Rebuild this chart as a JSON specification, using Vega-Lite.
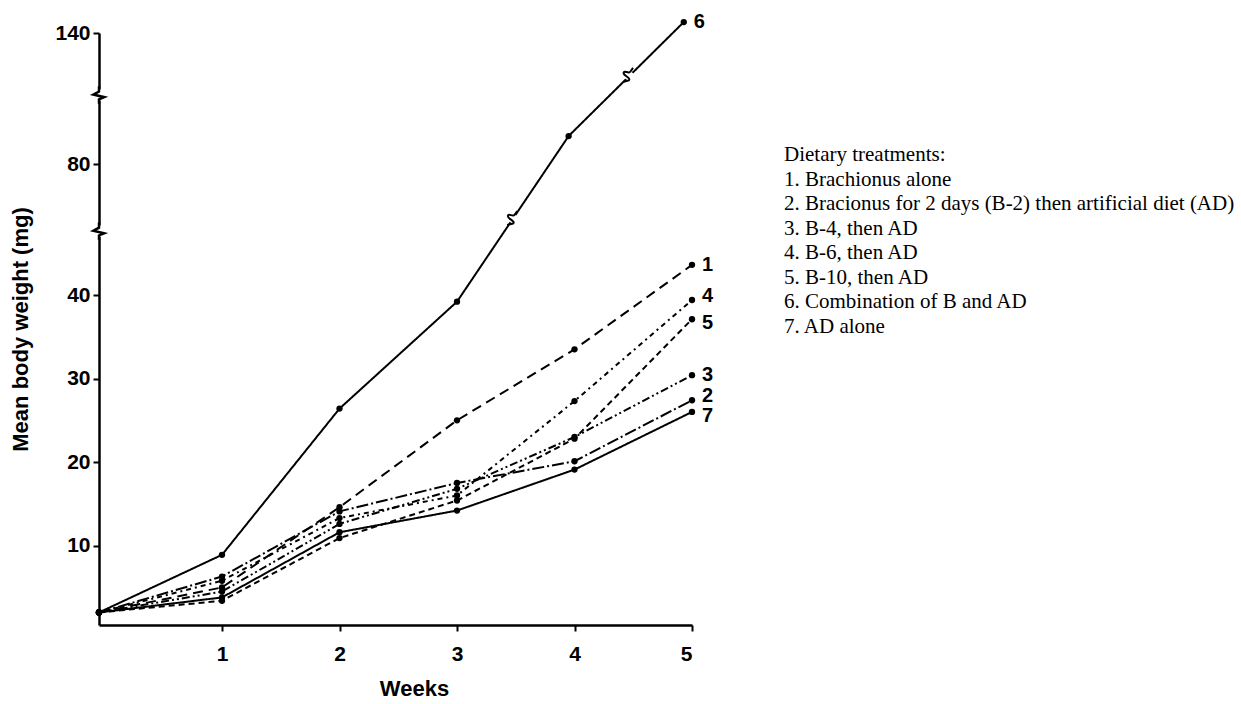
{
  "$schema": "https://vega.github.io/schema/vega-lite/v6.json",
  "background": "white",
  "padding": {"left": 9, "top": 12, "right": 2, "bottom": 5},
  "config": {
    "view": {"stroke": null},
    "font": "Liberation Sans",
    "axis": {"grid": false, "domainColor": "black", "tickColor": "black", "labelColor": "black", "titleColor": "black"}
  },
  "datasets": {
    "weights": [
      {"series": "1", "week": 0, "mg": 2.0},
      {"series": "1", "week": 1, "mg": 5.0},
      {"series": "1", "week": 2, "mg": 14.6},
      {"series": "1", "week": 3, "mg": 25.0},
      {"series": "1", "week": 4, "mg": 33.5},
      {"series": "1", "week": 5, "mg": 49.2},
      {"series": "2", "week": 0, "mg": 2.0},
      {"series": "2", "week": 1, "mg": 6.3},
      {"series": "2", "week": 2, "mg": 14.1},
      {"series": "2", "week": 3, "mg": 17.5},
      {"series": "2", "week": 4, "mg": 20.1},
      {"series": "2", "week": 5, "mg": 27.4},
      {"series": "3", "week": 0, "mg": 2.0},
      {"series": "3", "week": 1, "mg": 4.5},
      {"series": "3", "week": 2, "mg": 12.6},
      {"series": "3", "week": 3, "mg": 16.8},
      {"series": "3", "week": 4, "mg": 23.0},
      {"series": "3", "week": 5, "mg": 30.4},
      {"series": "4", "week": 0, "mg": 2.0},
      {"series": "4", "week": 1, "mg": 5.8},
      {"series": "4", "week": 2, "mg": 13.3},
      {"series": "4", "week": 3, "mg": 16.0},
      {"series": "4", "week": 4, "mg": 27.3},
      {"series": "4", "week": 5, "mg": 39.4},
      {"series": "5", "week": 0, "mg": 2.0},
      {"series": "5", "week": 1, "mg": 3.4},
      {"series": "5", "week": 2, "mg": 10.9},
      {"series": "5", "week": 3, "mg": 15.4},
      {"series": "5", "week": 4, "mg": 22.8},
      {"series": "5", "week": 5, "mg": 37.1},
      {"series": "6", "week": 0, "mg": 2.0},
      {"series": "6", "week": 1, "mg": 8.9},
      {"series": "6", "week": 2, "mg": 26.4},
      {"series": "6", "week": 3, "mg": 39.2},
      {"series": "6", "week": 3.95, "mg": 92.8},
      {"series": "6", "week": 4.93, "mg": 145},
      {"series": "7", "week": 0, "mg": 2.0},
      {"series": "7", "week": 1, "mg": 3.8},
      {"series": "7", "week": 2, "mg": 11.6},
      {"series": "7", "week": 3, "mg": 14.2},
      {"series": "7", "week": 4, "mg": 19.1},
      {"series": "7", "week": 5, "mg": 26.0}
    ],
    "breaks": [
      {"on": "axis", "week": 0, "mg": 111.6},
      {"on": "axis", "week": 0, "mg": 59.5},
      {"on": "line", "week": 3.47, "mg": 63.5},
      {"on": "line", "week": 4.455, "mg": 120.8}
    ],
    "treatments": [
      {"item": 0, "text": "Dietary treatments:"},
      {"item": 1, "text": "1. Brachionus alone"},
      {"item": 2, "text": "2. Bracionus for 2 days (B-2) then artificial diet (AD)"},
      {"item": 3, "text": "3. B-4, then AD"},
      {"item": 4, "text": "4. B-6, then AD"},
      {"item": 5, "text": "5. B-10, then AD"},
      {"item": 6, "text": "6. Combination of B and AD"},
      {"item": 7, "text": "7. AD alone"}
    ]
  },
  "spacing": 70,
  "hconcat": [
    {
      "width": 593,
      "height": 592,
      "encoding": {
        "x": {
          "field": "week",
          "type": "quantitative",
          "scale": {"domain": [0, 1, 5], "range": [0, 123, 593], "zero": false, "nice": false},
          "axis": {
            "values": [1, 2, 3, 4, 5],
            "format": "d",
            "domainWidth": 2.5,
            "tickWidth": 2,
            "tickSize": 6,
            "labelFontSize": 21,
            "labelFontWeight": "bold",
            "labelPadding": 12,
            "title": "Weeks",
            "titleFontSize": 22,
            "titleFontWeight": "bold",
            "titlePadding": 14,
            "titleX": 315
          }
        },
        "y": {
          "field": "mg",
          "type": "quantitative",
          "scale": {"domain": [0.5, 40, 80, 140], "range": [592, 262, 131, 0], "zero": false, "nice": false},
          "axis": {
            "values": [10, 20, 30, 40, 80, 140],
            "domainWidth": 2.5,
            "tickWidth": 2,
            "tickSize": 6,
            "labelFontSize": 21,
            "labelFontWeight": "bold",
            "labelPadding": 3,
            "title": "Mean body weight (mg)",
            "titleFontSize": 22,
            "titleFontWeight": "bold",
            "titlePadding": 22
          }
        }
      },
      "layer": [
        {
          "data": {"name": "weights"},
          "mark": {"type": "line", "color": "black", "strokeWidth": 2, "clip": false},
          "encoding": {
            "detail": {"field": "series", "type": "nominal"},
            "strokeDash": {
              "field": "series",
              "type": "nominal",
              "legend": null,
              "scale": {
                "domain": ["1", "2", "3", "4", "5", "6", "7"],
                "range": [[10, 6], [12, 3, 2, 3], [8, 3, 2, 3, 2, 3], [5, 4, 2, 4], [6, 4], [1, 0], [1, 0]]
              }
            }
          }
        },
        {
          "data": {"name": "weights"},
          "mark": {"type": "point", "filled": true, "color": "black", "opacity": 1, "size": 40, "clip": false}
        },
        {
          "data": {"name": "weights"},
          "transform": [{"filter": "datum.week >= 4.9 && (datum.series === '1' || datum.series === '3' || datum.series === '6')"}],
          "mark": {"type": "text", "align": "left", "baseline": "middle", "dx": 10, "fontSize": 20, "fontWeight": "bold", "color": "black"},
          "encoding": {"text": {"field": "series", "type": "nominal"}}
        },
        {
          "data": {"name": "weights"},
          "transform": [{"filter": "datum.week >= 4.9 && (datum.series === '2' || datum.series === '4')"}],
          "mark": {"type": "text", "align": "left", "baseline": "middle", "dx": 10, "dy": -4, "fontSize": 20, "fontWeight": "bold", "color": "black"},
          "encoding": {"text": {"field": "series", "type": "nominal"}}
        },
        {
          "data": {"name": "weights"},
          "transform": [{"filter": "datum.week >= 4.9 && (datum.series === '5' || datum.series === '7')"}],
          "mark": {"type": "text", "align": "left", "baseline": "middle", "dx": 10, "dy": 4, "fontSize": 20, "fontWeight": "bold", "color": "black"},
          "encoding": {"text": {"field": "series", "type": "nominal"}}
        },
        {
          "data": {"name": "breaks"},
          "transform": [{"filter": "datum.on === 'axis'"}],
          "mark": {"type": "point", "shape": "square", "filled": true, "color": "white", "opacity": 1, "size": 130, "clip": false}
        },
        {
          "data": {"name": "breaks"},
          "transform": [{"filter": "datum.on === 'axis'"}],
          "mark": {"type": "point", "shape": "M0,-1L0,-0.4L-0.65,-0.05L0.6,0.25L0,0.5L0,1", "filled": false, "color": "black", "strokeWidth": 2.5, "opacity": 1, "size": 300, "clip": false}
        },
        {
          "data": {"name": "breaks"},
          "transform": [{"filter": "datum.on === 'line'"}],
          "mark": {"type": "point", "shape": "square", "filled": true, "color": "white", "opacity": 1, "size": 80, "angle": 36, "clip": false}
        },
        {
          "data": {"name": "breaks"},
          "transform": [{"filter": "datum.on === 'line'"}],
          "mark": {"type": "point", "shape": "M0,-1L0,-0.45C0,-0.1,-0.7,-0.25,-0.55,0.1C-0.4,0.4,0.55,0.05,0.45,0.45L0,1", "filled": false, "color": "black", "strokeWidth": 2, "opacity": 1, "size": 300, "angle": 36, "clip": false}
        }
      ]
    },
    {
      "width": 450,
      "height": 592,
      "data": {"name": "treatments"},
      "mark": {"type": "text", "align": "left", "baseline": "middle", "font": "Liberation Serif", "fontSize": 21, "color": "black"},
      "encoding": {
        "x": {"value": 0},
        "y": {"field": "item", "type": "quantitative", "axis": null, "scale": {"domain": [0, 7], "range": [122, 294], "zero": false, "nice": false}},
        "text": {"field": "text", "type": "nominal"}
      }
    }
  ]
}
